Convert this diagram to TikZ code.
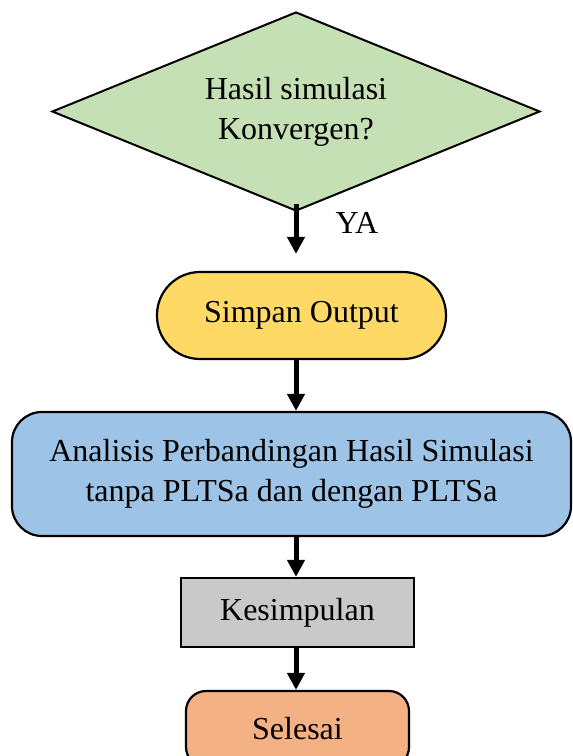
\documentclass[tikz,border=0pt]{standalone}
\usepackage{fontspec}
\setmainfont{Liberation Serif}
\usetikzlibrary{shapes.geometric,arrows.meta}
\definecolor{hijau}{HTML}{C5E0B4}
\definecolor{kuning}{HTML}{FFD966}
\definecolor{biru}{HTML}{9DC3E6}
\definecolor{abu}{HTML}{C9C9C9}
\definecolor{jingga}{HTML}{F4B183}

\begin{document}
\begin{tikzpicture}[x=1pt, y=-1pt,
	kotak/.style={draw=black, line width=2.2pt, inner sep=0pt, align=center,
		font=\fontsize{32}{40}\selectfont},
	alur/.style={line width=5pt, -{Triangle[width=17pt,length=17pt]}}]
			%%%%% START %%%%%
			\useasboundingbox (0, 0) rectangle (573, 756);
			
			\node[kotak, diamond, aspect=2.45, fill=hijau, line width=2pt, minimum width=488pt, minimum height=199pt] (cek) at (296, 111.5) {Hasil simulasi\\Konvergen?};
			\node[font=\fontsize{32}{40}\selectfont] (ya) at (357, 223) {YA};
			
			\node[kotak, fill=kuning, rounded corners=43pt, minimum width=289pt, minimum height=87pt] (simpan) at (301.5, 315.5) {Simpan Output};
			\node[kotak, fill=biru, rounded corners=30pt, minimum width=559pt, minimum height=124pt] (analisis) at (291.5, 474) {Analisis Perbandingan Hasil Simulasi\\tanpa PLTSa dan dengan PLTSa};
			\node[kotak, fill=abu, minimum width=233pt, minimum height=69pt] (kesimpulan) at (297.5, 612.5) {Kesimpulan};
			\node[kotak, fill=jingga, rounded corners=20pt, minimum width=223pt, minimum height=76pt] (selesai) at (297.5, 729) {Selesai};
			
			\draw[alur, shorten <=-8pt, shorten >=17pt] (cek.south) -- (cek.south |- simpan.north);
			\draw[alur] (cek.south |- simpan.south) -- (cek.south |- analisis.north);
			\draw[alur] (cek.south |- analisis.south) -- (cek.south |- kesimpulan.north);
			\draw[alur] (cek.south |- kesimpulan.south) -- (cek.south |- selesai.north);
			
			%%%%% END %%%%%
\end{tikzpicture}
\end{document}
